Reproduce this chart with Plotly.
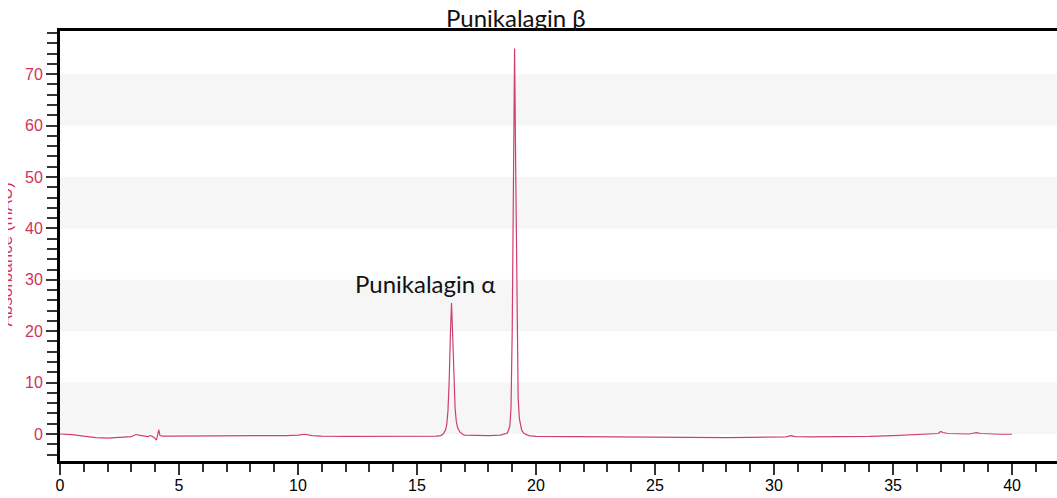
import plotly.graph_objects as go

# Retention time (min) and absorbance (mAU)
rt = [0, 0.5, 1, 1.5, 2, 2.5, 3, 3.1, 3.2, 3.3, 3.5, 3.7, 3.8, 3.9, 4.0, 4.05, 4.1, 4.15, 4.2, 4.3,
      4.5, 5, 6, 7, 8, 9, 9.5, 10, 10.3, 10.6, 11, 12, 13, 14, 15, 15.8, 16.0, 16.1, 16.2, 16.25,
      16.3, 16.35, 16.4, 16.45, 16.5, 16.55, 16.6, 16.65, 16.7, 16.8, 16.9, 17.0, 17.5, 18.0, 18.5,
      18.8, 18.9, 18.95, 19.0, 19.05, 19.1, 19.15, 19.2, 19.25, 19.3, 19.35, 19.4, 19.5, 19.7, 20,
      21, 22, 23, 24, 25, 26, 27, 28, 29, 30, 30.5, 30.7, 30.9, 31.5, 32, 33, 34, 35, 35.5, 36,
      36.5, 36.9, 37.0, 37.1, 37.3, 37.8, 38.2, 38.4, 38.5, 38.7, 39, 39.5, 40]
absorbance = [0, -0.1, -0.4, -0.7, -0.8, -0.7, -0.5, -0.3, -0.1, -0.2, -0.4, -0.5, -0.3, -0.5, -0.9,
              -1.2, -0.2, 0.8, -0.3, -0.4, -0.4, -0.4, -0.4, -0.4, -0.4, -0.35, -0.3, -0.2, -0.05,
              -0.3, -0.4, -0.45, -0.45, -0.45, -0.45, -0.4, -0.3, 0.0, 0.8, 1.8, 4.5, 10, 19, 25.5,
              19, 10.5, 5, 2.5, 1.3, 0.4, 0.0, -0.2, -0.3, -0.3, -0.2, 0.2, 1.5, 5, 20, 55, 75, 50,
              20, 7, 3, 1.5, 0.7, 0.1, -0.3, -0.45, -0.5, -0.5, -0.55, -0.6, -0.6, -0.65, -0.7, -0.7,
              -0.65, -0.6, -0.55, -0.3, -0.5, -0.55, -0.55, -0.5, -0.45, -0.3, -0.2, -0.1, 0.0, 0.1,
              0.5, 0.3, 0.1, 0.0, 0.0, 0.2, 0.25, 0.1, 0.0, -0.05, -0.05]

peak_labels = ["Punikalagin α", "Punikalagin β"]
peak_label_x = [15.34, 19.16]
peak_label_y = [29.2, 81.0]

band_ranges = [(0, 10), (20, 30), (40, 50), (60, 70)]

RED = "#d2325a"
LINE = "#cf3f6a"
Y_RANGE = [-5.25, 78.4]
LEFT = 60
PLOT_W = 997

fig = go.Figure()
fig.add_trace(go.Scatter(x=rt, y=absorbance, mode="lines",
                         line=dict(color=LINE, width=1.2), showlegend=False))

for lo, hi in band_ranges:
    fig.add_shape(type="rect", xref="paper", yref="y", x0=0, x1=1, y0=lo, y1=hi,
                  fillcolor="#f6f6f6", line=dict(width=0), layer="below")

for txt, x, y in zip(peak_labels, peak_label_x, peak_label_y):
    # convert y value to paper fraction so labels above the axis range still show
    yp = (y - Y_RANGE[0]) / (Y_RANGE[1] - Y_RANGE[0])
    fig.add_annotation(x=x, y=yp, xref="x", yref="paper", text=txt, showarrow=False,
                       xanchor="center", yanchor="middle",
                       font=dict(family="Lato, Open Sans, sans-serif", size=24, color="#111"))

# y-axis title, partly cut off at the left edge as in the reference
fig.add_annotation(xref="paper", yref="paper", x=(7 - LEFT) / PLOT_W, y=0.48,
                   text="Absorbance (mAU)",
                   textangle=-90, showarrow=False, xanchor="center", yanchor="middle",
                   font=dict(family="Liberation Sans, Arial", size=17, color=RED))
fig.add_annotation(xref="paper", yref="paper", x=(0 - LEFT) / PLOT_W, y=0.48, text=" ",
                   showarrow=False, xanchor="left", yanchor="middle",
                   width=8, height=200, bgcolor="white", borderpad=0, borderwidth=0,
                   font=dict(size=4))

fig.update_layout(
    width=1057, height=498,
    margin=dict(l=60, r=0, t=31, b=37),
    plot_bgcolor="white", paper_bgcolor="white",
    font=dict(family="Liberation Sans, Arial", size=16),
    xaxis=dict(range=[0, 41.89], tickmode="linear", tick0=0, dtick=5,
               showgrid=False, zeroline=False,
               showline=True, linewidth=3, linecolor="black", mirror=True,
               ticks="outside", ticklen=11, tickwidth=1.5, tickcolor="#333",
               ticklabelstandoff=-3,
               tickfont=dict(color="black", size=16),
               minor=dict(dtick=1, ticks="outside", ticklen=8, tickwidth=1.5, tickcolor="#333")),
    yaxis=dict(range=Y_RANGE, tickmode="linear", tick0=0, dtick=10,
               showgrid=False, zeroline=False,
               showline=True, linewidth=3, linecolor="black",
               ticks="outside", ticklen=11, tickwidth=1.5, tickcolor="#333",
               tickfont=dict(color=RED, size=16),
               minor=dict(dtick=2, ticks="outside", ticklen=10, tickwidth=1.5, tickcolor="#333")),
)

fig.write_html("out.html")
